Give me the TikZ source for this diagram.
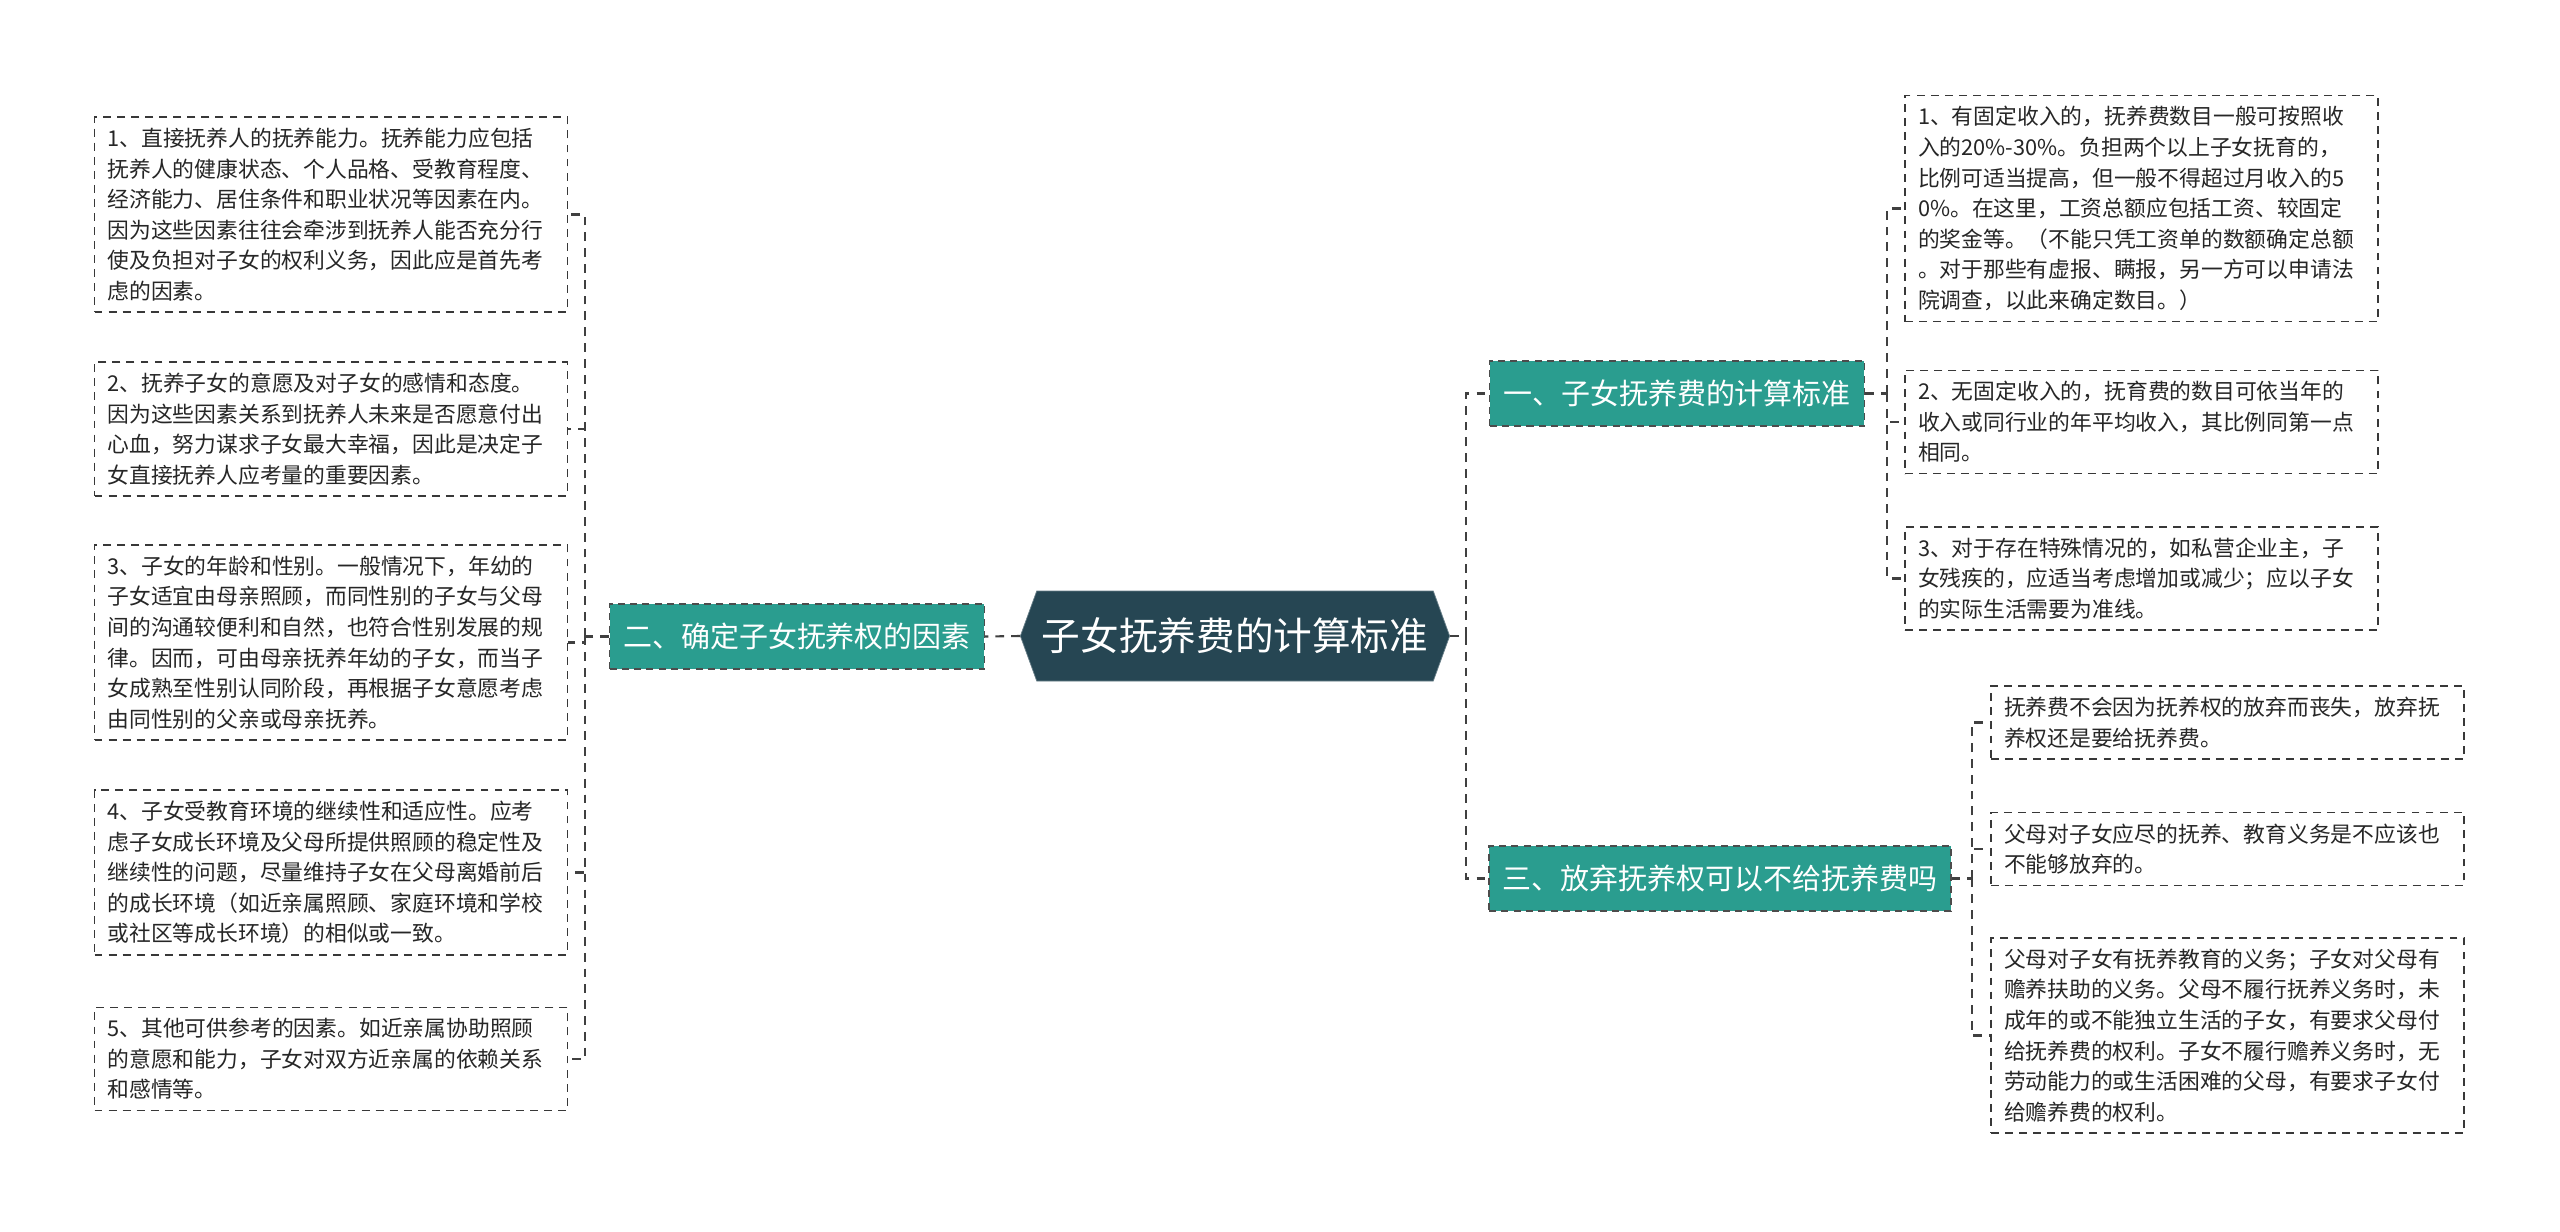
\documentclass[tikz,border=0pt]{standalone}
\usepackage{fontspec}
\setmainfont{Noto Sans CJK SC}
\usetikzlibrary{shapes.symbols}
\definecolor{rootcol}{HTML}{264653}
\definecolor{branchcol}{HTML}{2A9D8F}
\tikzset{
  root/.style={shape=signal, signal to=west and east, signal pointer angle=140,
    fill=rootcol, draw=rootcol!70, text=white, minimum width=8.4cm, minimum height=1.8cm,
    inner xsep=0.1cm, font=\fontsize{22pt}{26pt}\selectfont},
  branch/.style={fill=branchcol, draw=black!70, dashed, dash pattern=on 4pt off 3pt,
    text=white, minimum height=1.3cm, inner xsep=0.27cm, line width=0.8pt,
    font=\fontsize{16.5pt}{20pt}\selectfont},
  leaf/.style={fill=white, draw=black!78, dash pattern=on 4.5pt off 3.5pt, line width=0.8pt,
    text=black!85, text width=8.94cm, align=left, inner xsep=0.26cm, inner ysep=0.22cm,
    font=\fontsize{12.4pt}{17.4pt}\selectfont},
  link/.style={draw=black!75, dash pattern=on 5pt off 4pt, line width=1.2pt}
}
\begin{document}
\begin{tikzpicture}[x=0.02cm,y=-0.02cm]
      \useasboundingbox (0,0) rectangle (2560,1231);
      \draw
        (1235,636) node[root] (root){子女抚养费的计算标准}
        (797,636.5) node[branch] (b2){二、确定子女抚养权的因素}
        (1677,393.5) node[branch] (b1){一、子女抚养费的计算标准}
        (1720,878.5) node[branch] (b3){三、放弃抚养权可以不给抚养费吗};
      \draw
        (331,214.5) node[leaf] (l1){1、直接抚养人的抚养能力。抚养能力应包括\\抚养人的健康状态、个人品格、受教育程度、\\经济能力、居住条件和职业状况等因素在内。\\因为这些因素往往会牵涉到抚养人能否充分行\\使及负担对子女的权利义务，因此应是首先考\\虑的因素。}
        (331,429) node[leaf] (l2){2、抚养子女的意愿及对子女的感情和态度。\\因为这些因素关系到抚养人未来是否愿意付出\\心血，努力谋求子女最大幸福，因此是决定子\\女直接抚养人应考量的重要因素。}
        (331,642.5) node[leaf] (l3){3、子女的年龄和性别。一般情况下，年幼的\\子女适宜由母亲照顾，而同性别的子女与父母\\间的沟通较便利和自然，也符合性别发展的规\\律。因而，可由母亲抚养年幼的子女，而当子\\女成熟至性别认同阶段，再根据子女意愿考虑\\由同性别的父亲或母亲抚养。}
        (331,872.5) node[leaf] (l4){4、子女受教育环境的继续性和适应性。应考\\虑子女成长环境及父母所提供照顾的稳定性及\\继续性的问题，尽量维持子女在父母离婚前后\\的成长环境（如近亲属照顾、家庭环境和学校\\或社区等成长环境）的相似或一致。}
        (331,1059) node[leaf] (l5){5、其他可供参考的因素。如近亲属协助照顾\\的意愿和能力，子女对双方近亲属的依赖关系\\和感情等。};
      \draw
        (2141.5,208.5) node[leaf] (r1){1、有固定收入的，抚养费数目一般可按照收\\入的20\%-30\%。负担两个以上子女抚育的，\\比例可适当提高，但一般不得超过月收入的5\\0\%。在这里，工资总额应包括工资、较固定\\的奖金等。（不能只凭工资单的数额确定总额\\。对于那些有虚报、瞒报，另一方可以申请法\\院调查，以此来确定数目。）}
        (2141.5,422) node[leaf] (r2){2、无固定收入的，抚育费的数目可依当年的\\收入或同行业的年平均收入，其比例同第一点\\相同。}
        (2141.5,578.5) node[leaf] (r3){3、对于存在特殊情况的，如私营企业主，子\\女残疾的，应适当考虑增加或减少；应以子女\\的实际生活需要为准线。}
        (2227.5,722.5) node[leaf] (r4){抚养费不会因为抚养权的放弃而丧失，放弃抚\\养权还是要给抚养费。}
        (2227.5,849) node[leaf] (r5){父母对子女应尽的抚养、教育义务是不应该也\\不能够放弃的。}
        (2227.5,1035.5) node[leaf] (r6){父母对子女有抚养教育的义务；子女对父母有\\赡养扶助的义务。父母不履行抚养义务时，未\\成年的或不能独立生活的子女，有要求父母付\\给抚养费的权利。子女不履行赡养义务时，无\\劳动能力的或生活困难的父母，有要求子女付\\给赡养费的权利。};
      \coordinate (lt) at (585,636.5);
      \coordinate (rt) at (1466,636);
      \coordinate (t1) at (1887,393.5);
      \coordinate (t3) at (1972,878.5);
      \begin{scope}[link]
        \draw (root.west) to (b2.east);
        \draw (b2.west) to (lt);
        \draw (lt) |- (l1.east);
        \draw (lt) |- (l2.east);
        \draw (lt) |- (l3.east);
        \draw (lt) |- (l4.east);
        \draw (lt) |- (l5.east);
        \draw (root.east) to (rt);
        \draw (rt) |- (b1.west);
        \draw (rt) |- (b3.west);
        \draw (b1.east) to (t1);
        \draw (t1) |- (r1.west);
        \draw (t1) |- (r2.west);
        \draw (t1) |- (r3.west);
        \draw (b3.east) to (t3);
        \draw (t3) |- (r4.west);
        \draw (t3) |- (r5.west);
        \draw (t3) |- (r6.west);
      \end{scope}
    \end{tikzpicture}
\end{document}
